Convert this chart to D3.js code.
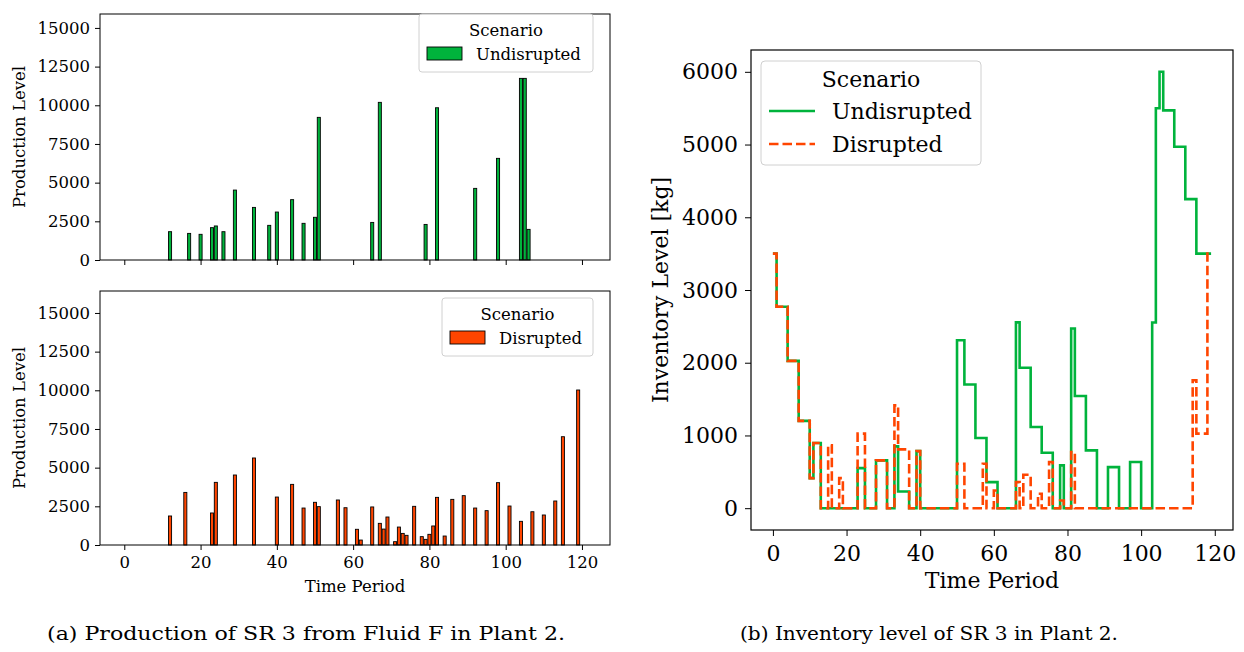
<!DOCTYPE html>
<html>
<head>
<meta charset="utf-8">
<script src="https://cdn.jsdelivr.net/npm/d3@7"></script>
<style>
  html, body { margin: 0; padding: 0; background: #fff; }
  svg { display: block; }
  text { font-family: "DejaVu Serif", serif; fill: #000; }
</style>
</head>
<body>
<svg id="chart" width="1244" height="652"></svg>
<script>
// ---------- Data ----------
const undisruptedPeriods    = [12, 17, 20, 23, 24, 26, 29, 34, 38, 40, 44, 47, 50, 51, 65, 67, 79, 82, 92, 98, 104, 105, 106];
const undisruptedProduction = [1830, 1720, 1660, 2090, 2200, 1830, 4520, 3400, 2240, 3100, 3900, 2370, 2760, 9220, 2430, 10190, 2300, 9840, 4630, 6570, 11740, 11740, 1980];

const disruptedPeriods    = [12, 16, 23, 24, 29, 34, 40, 44, 47, 50, 51, 56, 58, 61, 62, 65, 67, 68, 69, 71, 72, 73, 74, 76, 78, 79, 80, 81, 82, 84, 86, 89, 92, 95, 98, 101, 104, 107, 110, 113, 115, 119];
const disruptedProduction = [1875, 3400, 2070, 4050, 4525, 5625, 3100, 3920, 2390, 2760, 2480, 2910, 2410, 1015, 320, 2460, 1400, 1030, 1810, 215, 1160, 750, 625, 2500, 540, 365, 690, 1230, 3080, 580, 2950, 3190, 2390, 2220, 4030, 2520, 1530, 2150, 1940, 2845, 7000, 10020];

// Inventory, one value per time period 0..119
const inventoryUndisrupted = [
  3500, 2770, 2770, 2770, 2025, 2025, 2025, 1200, 1200, 1200,
  413, 896, 896, 0, 0, 0, 0, 0, 0, 0,
  0, 0, 0, 551, 551, 0, 0, 0, 657, 657,
  657, 0, 0, 850, 230, 230, 230, 0, 0, 785,
  0, 0, 0, 0, 0, 0, 0, 0, 0, 0,
  2310, 2310, 1700, 1700, 1700, 964, 964, 964, 358, 358,
  358, 0, 0, 0, 0, 0, 2555, 1930, 1930, 1930,
  1116, 1116, 1116, 763, 763, 763, 0, 0, 588, 0,
  0, 2471, 1543, 1543, 1543, 795, 795, 795, 0, 0,
  0, 565, 565, 565, 0, 0, 0, 634, 634, 634,
  0, 0, 0, 2554, 5500, 6000, 5470, 5470, 5470, 4970,
  4970, 4970, 4250, 4250, 4250, 3500, 3500, 3500, 3500, 3500
];
const inventoryDisrupted = [
  3500, 2770, 2770, 2770, 2025, 2025, 2025, 1200, 1200, 1200,
  413, 896, 896, 0, 0, 864, 0, 0, 413, 0,
  0, 0, 0, 1025, 1025, 0, 0, 0, 657, 657,
  657, 0, 0, 1414, 808, 808, 808, 0, 0, 785,
  0, 0, 0, 0, 0, 0, 0, 0, 0, 0,
  611, 611, 0, 0, 0, 0, 0, 611, 0, 0,
  244, 0, 0, 0, 0, 0, 358, 0, 460, 460,
  0, 0, 198, 0, 0, 634, 0, 0, 106, 0,
  0, 771, 0, 0, 0, 0, 0, 0, 0, 0,
  0, 0, 0, 0, 0, 0, 0, 0, 0, 0,
  0, 0, 0, 0, 0, 0, 0, 0, 0, 0,
  0, 0, 0, 0, 1759, 1025, 1025, 1025, 3500, 3500
];

const prodYTicks = [0, 2500, 5000, 7500, 10000, 12500, 15000];
const timeTicks = [0, 20, 40, 60, 80, 100, 120];
const invYTicks = [0, 1000, 2000, 3000, 4000, 5000, 6000];

const GREEN = "#00b33c";
const ORANGE = "#ff4500";

const svg = d3.select("#chart");

// ---------- Left: production panels ----------
const LF = 16.5; // font size left
const xL = d3.scaleLinear().domain([-6.37, 127.35]).range([100, 610]);

function barPanel(y0, y1, yMax, periods, values, color, label, showXLabels, legendBox) {
  const y = d3.scaleLinear().domain([0, yMax]).range([y1, y0]);
  const g = svg.append("g");
  const bw = xL(0.8) - xL(0);
  g.selectAll("rect.bar").data(periods.map((p, i) => ({p, v: values[i]})))
    .enter().append("rect")
    .attr("x", d => xL(d.p) - bw / 2)
    .attr("y", d => y(d.v))
    .attr("width", bw)
    .attr("height", d => y(0) - y(d.v))
    .attr("fill", color)
    .attr("stroke", "#000")
    .attr("stroke-width", 0.9);
  g.append("rect").attr("x", 100).attr("y", y0).attr("width", 510).attr("height", y1 - y0)
    .attr("fill", "none").attr("stroke", "#000").attr("stroke-width", 1);
  const ya = d3.axisLeft(y).tickValues(prodYTicks).tickSize(5).tickPadding(5).tickFormat(d3.format("d"));
  g.append("g").attr("transform", "translate(100,0)").call(ya)
    .call(s => s.select(".domain").remove())
    .call(s => s.selectAll("text").attr("font-family", "DejaVu Serif").attr("font-size", LF).attr("fill", "#000"));
  const xa = d3.axisBottom(xL).tickValues(timeTicks).tickSize(5).tickPadding(6).tickFormat(d3.format("d"));
  const gx = g.append("g").attr("transform", `translate(0,${y1})`).call(xa)
    .call(s => s.select(".domain").remove())
    .call(s => s.selectAll("text").attr("font-family", "DejaVu Serif").attr("font-size", LF).attr("fill", "#000"));
  if (!showXLabels) gx.selectAll("text").remove();
  g.append("text").attr("transform", `translate(19,${(y0 + y1) / 2}) rotate(-90)`)
    .attr("text-anchor", "middle").attr("dy", "0.35em").attr("font-size", LF).text("Production Level");
  const lb = legendBox;
  g.append("rect").attr("x", lb.x).attr("y", lb.y).attr("width", lb.w).attr("height", lb.h)
    .attr("rx", 3).attr("fill", "#fff").attr("fill-opacity", 0.8).attr("stroke", "#d0d0d0").attr("stroke-width", 1);
  g.append("text").attr("x", lb.x + lb.w / 2).attr("y", lb.y + 16).attr("dy", "0.35em")
    .attr("text-anchor", "middle").attr("font-size", LF).text("Scenario");
  g.append("rect").attr("x", lb.x + 8).attr("y", lb.y + 33).attr("width", 35).attr("height", 13)
    .attr("fill", color).attr("stroke", "#000").attr("stroke-width", 0.9);
  g.append("text").attr("x", lb.x + 57).attr("y", lb.y + 40).attr("dy", "0.35em")
    .attr("font-size", LF).text(label);
  return y;
}

barPanel(14, 260, 15900, undisruptedPeriods, undisruptedProduction, GREEN, "Undisrupted", false,
  {x: 419, y: 14, w: 174, h: 58});
barPanel(291, 545, 16420, disruptedPeriods, disruptedProduction, ORANGE, "Disrupted", true,
  {x: 442, y: 298, w: 151, h: 58});

svg.append("text").attr("x", 355).attr("y", 586).attr("dy", "0.35em").attr("text-anchor", "middle")
  .attr("font-size", LF).text("Time Period");

// ---------- Right: inventory ----------
const RF = 22;
const xR = d3.scaleLinear().domain([-5.95, 124.95]).range([751, 1233]);
const yR = d3.scaleLinear().domain([-300, 6300]).range([530, 50]);
const gR = svg.append("g");
const periods = inventoryUndisrupted.map((_, i) => i);
const line = d3.line().curve(d3.curveStepAfter).x(d => xR(d[0])).y(d => yR(d[1]));

gR.append("path").datum(periods.map(t => [t, inventoryUndisrupted[t]]))
  .attr("d", line).attr("fill", "none").attr("stroke", GREEN).attr("stroke-width", 2.6);
gR.append("path").datum(periods.map(t => [t, inventoryDisrupted[t]]))
  .attr("d", line).attr("fill", "none").attr("stroke", ORANGE).attr("stroke-width", 2.6)
  .attr("stroke-dasharray", "9.5,4");

gR.append("rect").attr("x", 751).attr("y", 50).attr("width", 482).attr("height", 480)
  .attr("fill", "none").attr("stroke", "#000").attr("stroke-width", 1.2);

gR.append("g").attr("transform", "translate(751,0)")
  .call(d3.axisLeft(yR).tickValues(invYTicks).tickSize(6).tickPadding(7).tickFormat(d3.format("d")))
  .call(s => s.select(".domain").remove())
  .call(s => s.selectAll("text").attr("font-family", "DejaVu Serif").attr("font-size", RF).attr("fill", "#000"));
gR.append("g").attr("transform", "translate(0,530)")
  .call(d3.axisBottom(xR).tickValues(timeTicks).tickSize(6).tickPadding(9).tickFormat(d3.format("d")))
  .call(s => s.select(".domain").remove())
  .call(s => s.selectAll("text").attr("font-family", "DejaVu Serif").attr("font-size", RF).attr("fill", "#000"));

gR.append("text").attr("x", 992).attr("y", 580).attr("dy", "0.35em").attr("text-anchor", "middle")
  .attr("font-size", RF).text("Time Period");
gR.append("text").attr("transform", "translate(660,290) rotate(-90)").attr("dy", "0.35em")
  .attr("text-anchor", "middle").attr("font-size", RF).text("Inventory Level [kg]");

gR.append("rect").attr("x", 761).attr("y", 61).attr("width", 220).attr("height", 104)
  .attr("rx", 4).attr("fill", "#fff").attr("fill-opacity", 0.8).attr("stroke", "#d0d0d0").attr("stroke-width", 1);
gR.append("text").attr("x", 871).attr("y", 79).attr("dy", "0.35em").attr("text-anchor", "middle")
  .attr("font-size", RF).text("Scenario");
gR.append("line").attr("x1", 769).attr("x2", 815).attr("y1", 111).attr("y2", 111)
  .attr("stroke", GREEN).attr("stroke-width", 2.6);
gR.append("text").attr("x", 832).attr("y", 111).attr("dy", "0.35em").attr("font-size", RF).text("Undisrupted");
gR.append("line").attr("x1", 769).attr("x2", 815).attr("y1", 144).attr("y2", 144)
  .attr("stroke", ORANGE).attr("stroke-width", 2.6).attr("stroke-dasharray", "9.5,4");
gR.append("text").attr("x", 832).attr("y", 144).attr("dy", "0.35em").attr("font-size", RF).text("Disrupted");

// ---------- Captions ----------
svg.append("text").attr("x", 306).attr("y", 634).attr("dy", "0.35em").attr("text-anchor", "middle")
  .attr("font-size", 18).attr("textLength", 518).attr("lengthAdjust", "spacingAndGlyphs")
  .text("(a) Production of SR 3 from Fluid F in Plant 2.");
svg.append("text").attr("x", 929).attr("y", 634).attr("dy", "0.35em").attr("text-anchor", "middle")
  .attr("font-size", 18).attr("textLength", 378).attr("lengthAdjust", "spacingAndGlyphs")
  .text("(b) Inventory level of SR 3 in Plant 2.");
</script>
</body>
</html>
